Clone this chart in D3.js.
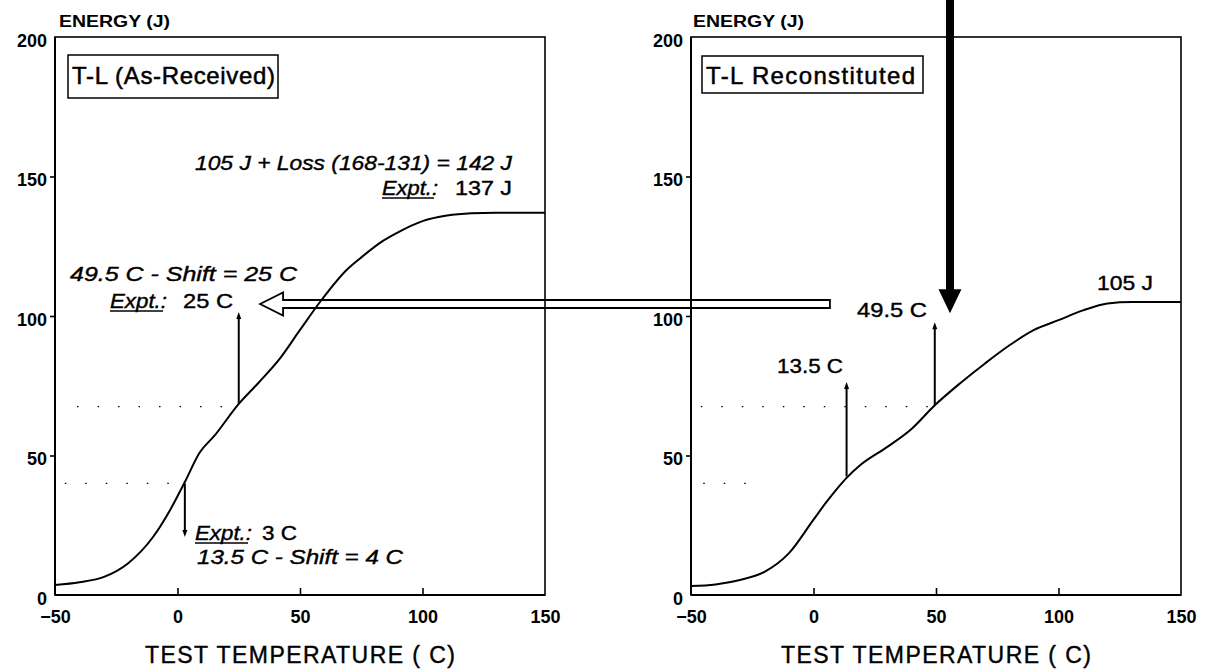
<!DOCTYPE html>
<html><head><meta charset="utf-8">
<script src="https://cdn.jsdelivr.net/npm/d3@7"></script>
<style>
html,body{margin:0;padding:0;background:#fff;}
svg text{font-family:"Liberation Sans",Arial,Helvetica,sans-serif;fill:#000;}
</style></head>
<body><svg id="c" width="1210" height="671"></svg>
<script>
// ---------- data ----------
const xTicks = [-50, 0, 50, 100, 150];
const yTicks = [0, 50, 100, 150, 200];
const panelTitles = ["T-L (As-Received)", "T-L  Reconstituted"];
const yAxisTitle = "ENERGY (J)";
const xAxisTitle = "TEST TEMPERATURE ( C)";

// As-received curve (left panel)
const asRecTemp   = [-50, -40, -30, -20, -10, -3, 3, 9, 15, 25, 33, 42, 50, 59, 69, 75, 84, 90, 100, 110, 120, 130, 140, 150];
const asRecEnergy = [3.6, 4.6, 6.5, 11.5, 20.8, 30.5, 40.5, 51, 57, 68.5, 76, 85, 95, 106, 116.5, 121, 127, 130, 134, 136, 136.8, 137, 137, 137];

// Reconstituted curve (right panel)
const reconTemp   = [-50, -40, -30, -20, -10, 0, 5, 10, 13.5, 19, 30, 40, 49.5, 60, 70, 80, 90, 100, 110, 120, 130, 150];
const reconEnergy = [3.2, 3.8, 5.4, 8.3, 15, 27, 33, 38.5, 42, 46.5, 53, 59.5, 68, 76, 83, 89.5, 95, 98.5, 102, 104.5, 105, 105];

// dotted reference levels: [energy, fromTemp, toTemp]
const leftLevels  = [[40, -46, 3], [67.5, -41, 25]];
const rightLevels = [[40, -45, -26], [67.5, -46, 49.5]];

// small vertical arrows: [temp, fromEnergy, toEnergy]
const leftArrows  = [[3, 40, 20.8], [25, 68.5, 101.4]];
const rightArrows = [[13.5, 42.5, 76.3], [49.5, 68, 97.8]];

// big transfer arrow (right -> left) and big downward arrow
const transferArrow = {tipTemp: 33.7, tailTemp: 6.7, energy: 104.3};
const downArrow = {temp: 55.7, tipEnergy: 101};

// ---------- layout ----------
const svg = d3.select("#c");
const yS = d3.scaleLinear().domain([0, 200]).range([595, 37]);
const xL = d3.scaleLinear().domain([-50, 150]).range([55, 545]);
const xR = d3.scaleLinear().domain([-50, 150]).range([691, 1181]);
const FONT = 21;

function panel(x, title, box, titleLen, energyX) {
  const g = svg.append("g");
  g.append("rect").attr("x", x.range()[0]).attr("y", yS(200))
    .attr("width", x.range()[1] - x.range()[0]).attr("height", yS(0) - yS(200))
    .attr("fill", "none").attr("stroke", "#000").attr("stroke-width", 1.6);
  g.append("line").attr("x1", x.range()[0]).attr("x2", x.range()[1]).attr("y1", yS(0)).attr("y2", yS(0))
    .attr("stroke", "#000").attr("stroke-width", 2.2);
  g.append("line").attr("x1", x.range()[0]).attr("x2", x.range()[0]).attr("y1", yS(0)).attr("y2", yS(200))
    .attr("stroke", "#000").attr("stroke-width", 2);
  const ax = g.append("g").attr("transform", `translate(0,${yS(0)})`)
    .call(d3.axisBottom(x).tickValues(xTicks).tickSizeInner(-7).tickSizeOuter(0).tickPadding(15));
  ax.select(".domain").remove();
  ax.selectAll("line").attr("stroke", "#000").attr("stroke-width", 1.6);
  ax.selectAll("text").attr("font-size", 18).attr("font-weight", "bold").attr("font-family", null);
  ax.selectAll(".tick").filter(d => d === -50 || d === 150).select("line").remove();
  const ay = g.append("g").attr("transform", `translate(${x.range()[0]},0)`)
    .call(d3.axisLeft(yS).tickValues(yTicks).tickSizeInner(5).tickSizeOuter(0).tickPadding(3));
  ay.select(".domain").remove();
  ay.selectAll("line").attr("stroke", "#000").attr("stroke-width", 1.6);
  ay.selectAll(".tick").filter(d => d === 0 || d === 200).select("line").remove();
  ay.selectAll("text").attr("font-size", 18).attr("font-weight", "bold").attr("font-family", null).attr("dy", "0.5em");
  g.append("text").attr("x", energyX).attr("y", 27).attr("font-size", 16).attr("font-weight", "bold")
    .attr("textLength", 111).attr("lengthAdjust", "spacingAndGlyphs").text(yAxisTitle);
  g.append("text").attr("x", (x.range()[0] + x.range()[1]) / 2 - 155).attr("y", 663).attr("font-size", 23)
    .attr("stroke", "#000").attr("stroke-width", 0.4)
    .attr("textLength", 310).attr("lengthAdjust", "spacing").text(xAxisTitle);
  g.append("rect").attr("x", box[0]).attr("y", box[1]).attr("width", box[2]).attr("height", box[3])
    .attr("fill", "#fff").attr("stroke", "#000").attr("stroke-width", 1.5);
  g.append("text").attr("x", box[0] + 4).attr("y", 84).attr("font-size", 24)
    .attr("stroke", "#000").attr("stroke-width", 0.5)
    .attr("textLength", titleLen).attr("lengthAdjust", "spacing").text(title);
  return g;
}

const gL = panel(xL, panelTitles[0], [68, 55, 210, 43], 203, 59);
const gR = panel(xR, panelTitles[1], [702, 56, 221, 37], 209, 693);

const line = (x) => d3.line().x(d => x(d[0])).y(d => yS(d[1])).curve(d3.curveMonotoneX);

function drawPanelData(g, x, temps, energies, levels, arrows) {
  const pts = temps.map((t, i) => [t, energies[i]]);
  levels.forEach(l => {
    g.append("line").attr("x1", x(l[1])).attr("x2", x(l[2])).attr("y1", yS(l[0])).attr("y2", yS(l[0]))
      .attr("stroke", "#000").attr("stroke-width", 1.3).attr("stroke-dasharray", "1.5,19");
  });
  g.append("path").datum(pts).attr("d", line(x)).attr("fill", "none")
    .attr("stroke", "#000").attr("stroke-width", 2);
  arrows.forEach(a => {
    const px = x(a[0]), y0 = yS(a[1]), y1 = yS(a[2]);
    const dir = y1 < y0 ? -1 : 1;
    g.append("line").attr("x1", px).attr("x2", px).attr("y1", y0).attr("y2", y1 - dir * 5)
      .attr("stroke", "#000").attr("stroke-width", 2);
    g.append("path").attr("d", `M${px},${y1} L${px - 2.5},${y1 - dir * 7} L${px + 2.5},${y1 - dir * 7} Z`)
      .attr("fill", "#000");
  });
}
drawPanelData(gL, xL, asRecTemp, asRecEnergy, leftLevels, leftArrows);
drawPanelData(gR, xR, reconTemp, reconEnergy, rightLevels, rightArrows);

// ---------- annotations ----------
function label(x, y, str, len, italic) {
  return svg.append("text").attr("x", x).attr("y", y).attr("font-size", FONT)
    .attr("font-style", italic ? "italic" : "normal")
    .attr("stroke", "#000").attr("stroke-width", 0.4)
    .attr("textLength", len).attr("lengthAdjust", "spacingAndGlyphs").text(str);
}
function expt(x, y, len) {
  label(x, y, "Expt.:", len, true);
  svg.append("line").attr("x1", x).attr("x2", x + len - 4).attr("y1", y + 3).attr("y2", y + 3)
    .attr("stroke", "#000").attr("stroke-width", 1.3);
}
label(195, 170, "105 J + Loss (168-131) = 142 J", 317, true);
expt(382, 195, 56); label(455, 195, "137 J", 57, false);
label(70, 281, "49.5 C - Shift = 25 C", 227, true);
expt(110, 308, 57); label(183, 308, "25 C", 50, false);
expt(195, 540, 57); label(262, 540, "3 C", 35, false);
label(197, 564, "13.5 C - Shift = 4 C", 206, true);
label(1097, 290, "105 J", 56, false);
label(857, 317, "49.5 C", 70, false);
label(777, 373, "13.5 C", 66, false);

// hollow transfer arrow
{
  const tip = xL(transferArrow.tipTemp), tail = xR(transferArrow.tailTemp), cy = yS(transferArrow.energy);
  const hl = 23, hh = 11.5, sh = 4;
  const d = `M${tip},${cy} L${tip + hl},${cy - hh} L${tip + hl},${cy - sh} L${tail},${cy - sh} L${tail},${cy + sh} L${tip + hl},${cy + sh} L${tip + hl},${cy + hh} Z`;
  svg.append("path").attr("d", d).attr("fill", "none").attr("stroke", "#000").attr("stroke-width", 1.8);
}
// big solid down arrow
{
  const px = xR(downArrow.temp), tipY = yS(downArrow.tipEnergy);
  svg.append("rect").attr("x", px - 4).attr("y", 0).attr("width", 8).attr("height", tipY - 20).attr("fill", "#000");
  svg.append("path").attr("d", `M${px},${tipY} L${px - 11.5},${tipY - 24} L${px + 11.5},${tipY - 24} Z`).attr("fill", "#000");
}
</script></body></html>
